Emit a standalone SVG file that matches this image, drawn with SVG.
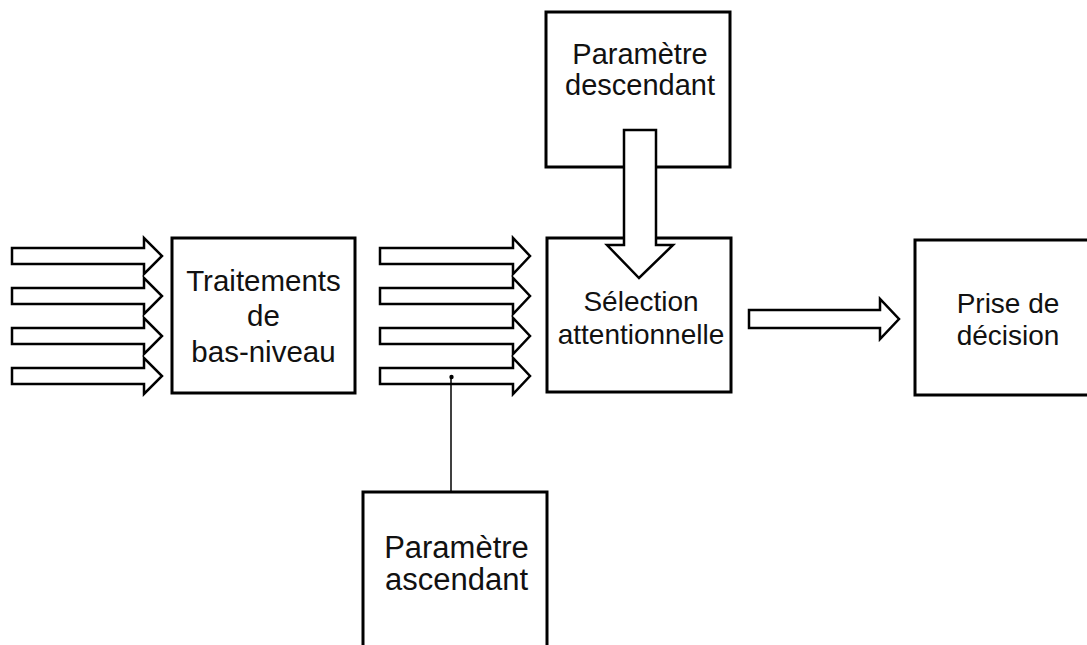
<svg xmlns="http://www.w3.org/2000/svg" width="1087" height="645" viewBox="0 0 1087 645">
  <style>
    .box { fill: #ffffff; stroke: #000000; stroke-width: 3; }
    .blk { fill: #ffffff; stroke: #000000; stroke-width: 2.5; stroke-linejoin: miter; }
    .lbl { font-family: "Liberation Sans", Arial, sans-serif; font-size: 28px; fill: #111111; text-anchor: middle; }
    .thin { stroke: #000000; stroke-width: 1.5; fill: none; }
  </style>
  <rect x="0" y="0" width="1087" height="645" fill="#ffffff"/>

  <g id="traitements">
    <rect class="box" x="172" y="238" width="183" height="155"/>
    <text class="lbl" x="263.5" y="291" style="font-size:29.5px">Traitements</text>
    <text class="lbl" x="263.5" y="326" style="font-size:29.5px">de</text>
    <text class="lbl" x="263.5" y="362" style="font-size:29.5px">bas-niveau</text>
  </g>

  <g id="selection">
    <rect class="box" x="547" y="238" width="184" height="154"/>
    <text class="lbl" x="641" y="311">Sélection</text>
    <text class="lbl" x="641" y="344">attentionnelle</text>
  </g>

  <g id="descendant">
    <rect class="box" x="546" y="12" width="184" height="155"/>
    <text class="lbl" x="640" y="64" style="font-size:29px">Paramètre</text>
    <text class="lbl" x="640" y="95" style="font-size:29px">descendant</text>
  </g>

  <g id="decision">
    <rect class="box" x="915" y="240" width="180" height="155"/>
    <text class="lbl" x="1008" y="313">Prise de</text>
    <text class="lbl" x="1008" y="345">décision</text>
  </g>

  <g id="ascendant">
    <rect class="box" x="363" y="492" width="184" height="200"/>
    <text class="lbl" x="456.5" y="558" style="font-size:31px">Paramètre</text>
    <text class="lbl" x="456.5" y="590" style="font-size:31px">ascendant</text>
  </g>

  <g id="connectors">
    <!-- input arrows -->
    <polygon class="blk" points="12,248 144,248 144,238 162,256 144,274 144,264 12,264"/>
    <polygon class="blk" points="12,288 144,288 144,278 162,296 144,314 144,304 12,304"/>
    <polygon class="blk" points="12,328 144,328 144,318 162,336 144,354 144,344 12,344"/>
    <polygon class="blk" points="12,368 144,368 144,358 162,376 144,394 144,384 12,384"/>
    <!-- middle arrows -->
    <polygon class="blk" points="380,248 513,248 513,238 530,256 513,274 513,264 380,264"/>
    <polygon class="blk" points="380,288 513,288 513,278 530,296 513,314 513,304 380,304"/>
    <polygon class="blk" points="380,328 513,328 513,318 530,336 513,354 513,344 380,344"/>
    <polygon class="blk" points="380,368 513,368 513,358 530,376 513,394 513,384 380,384"/>
    <!-- output arrow -->
    <polygon class="blk" points="749,310 880,310 880,299 899,319 880,339 880,328 749,328"/>
    <!-- top-down arrow -->
    <polygon class="blk" points="624,130 656,130 656,245 673,245 639,278 607,245 624,245"/>
    <!-- bottom-up link -->
    <line class="thin" x1="451" y1="377" x2="451" y2="492"/>
    <circle cx="451.5" cy="377" r="2.2" fill="#000000"/>
  </g>
</svg>
